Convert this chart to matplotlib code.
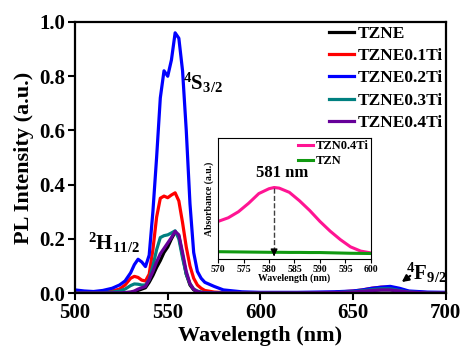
import matplotlib
matplotlib.use('Agg')
import matplotlib.pyplot as plt

plt.rcParams['font.family'] = 'Liberation Serif'
plt.rcParams['font.weight'] = 'bold'
plt.rcParams['mathtext.fontset'] = 'custom'
plt.rcParams['mathtext.rm'] = 'Liberation Serif:bold'
plt.rcParams['mathtext.it'] = 'Liberation Serif:bold'
plt.rcParams['mathtext.bf'] = 'Liberation Serif:bold'

# PL emission spectra
wl = [500, 505, 510, 515, 520, 524, 527, 530, 532, 534, 536, 538, 540, 542, 544,
      546, 548, 550, 552, 554, 556, 558, 560, 562, 564, 566, 568, 570, 575, 580,
      590, 600, 620, 640, 650, 655, 660, 665, 670, 675, 680, 690, 700]

tzne = [0.001, 0.001, 0.001, 0.001, 0.001, 0.001, 0.002, 0.003, 0.005, 0.010, 0.015,
        0.020, 0.040, 0.065, 0.095, 0.120, 0.150, 0.170, 0.200, 0.225, 0.210, 0.140,
        0.070, 0.030, 0.012, 0.005, 0.002, 0.001, 0.001, 0.001, 0.001, 0.001, 0.001,
        0.002, 0.004, 0.007, 0.010, 0.012, 0.012, 0.008, 0.004, 0.001, 0.001]
tzne01 = [0.003, 0.002, 0.002, 0.004, 0.008, 0.015, 0.030, 0.055, 0.062, 0.058, 0.048,
          0.045, 0.070, 0.160, 0.280, 0.350, 0.358, 0.352, 0.362, 0.370, 0.340, 0.260,
          0.170, 0.100, 0.055, 0.030, 0.018, 0.010, 0.004, 0.002, 0.001, 0.001, 0.001,
          0.003, 0.008, 0.012, 0.018, 0.022, 0.022, 0.015, 0.006, 0.002, 0.001]
tzne02 = [0.012, 0.008, 0.006, 0.010, 0.018, 0.030, 0.045, 0.075, 0.105, 0.125, 0.115,
          0.098, 0.140, 0.300, 0.500, 0.720, 0.820, 0.800, 0.860, 0.960, 0.940, 0.820,
          0.600, 0.330, 0.150, 0.080, 0.055, 0.040, 0.025, 0.012, 0.005, 0.003, 0.003,
          0.005, 0.008, 0.012, 0.018, 0.022, 0.025, 0.018, 0.008, 0.004, 0.003]
tzne03 = [0.002, 0.002, 0.002, 0.002, 0.004, 0.008, 0.015, 0.028, 0.034, 0.033, 0.030,
          0.030, 0.050, 0.100, 0.160, 0.205, 0.212, 0.215, 0.222, 0.230, 0.200, 0.130,
          0.070, 0.035, 0.015, 0.008, 0.004, 0.002, 0.001, 0.001, 0.001, 0.001, 0.001,
          0.002, 0.005, 0.009, 0.013, 0.016, 0.016, 0.010, 0.004, 0.001, 0.001]
tzne04 = [0.001, 0.001, 0.001, 0.001, 0.001, 0.001, 0.002, 0.004, 0.008, 0.015, 0.020,
          0.025, 0.050, 0.080, 0.115, 0.145, 0.165, 0.185, 0.205, 0.228, 0.215, 0.150,
          0.080, 0.035, 0.014, 0.006, 0.003, 0.001, 0.001, 0.001, 0.001, 0.001, 0.001,
          0.002, 0.004, 0.007, 0.010, 0.012, 0.012, 0.008, 0.004, 0.001, 0.001]

# absorbance (inset)
wl_abs = [570, 572, 574, 576, 578, 580, 581, 582, 584, 586, 588, 590, 592, 594, 596, 598, 600]
abs_ti = [0.31, 0.34, 0.39, 0.46, 0.54, 0.58, 0.59, 0.585, 0.55, 0.48, 0.40, 0.31, 0.23,
          0.16, 0.10, 0.065, 0.05]
abs_tzn = [0.060, 0.059, 0.058, 0.057, 0.056, 0.055, 0.055, 0.055, 0.054, 0.054, 0.053,
           0.053, 0.051, 0.049, 0.047, 0.046, 0.045]

fig = plt.figure(figsize=(4.63, 3.49), dpi=100)
ax = fig.add_axes([0.162, 0.160, 0.801, 0.777])

lw = 2.3
ax.plot(wl, tzne, c='black', lw=lw, label='TZNE')
ax.plot(wl, tzne01, c='#ff0000', lw=lw, label='TZNE0.1Ti')
ax.plot(wl, tzne02, c='#0000ff', lw=lw, label='TZNE0.2Ti')
ax.plot(wl, tzne03, c='#008080', lw=lw, label='TZNE0.3Ti')
ax.plot(wl, tzne04, c='#660099', lw=lw, label='TZNE0.4Ti')

ax.set_xlim(500, 700)
ax.set_ylim(0, 1.0)
ax.set_xticks([500, 550, 600, 650, 700])
ax.set_yticks([0.0, 0.2, 0.4, 0.6, 0.8, 1.0])
ax.set_xlabel('Wavelength (nm)', size=16, fontweight='bold', labelpad=2)
ax.set_ylabel('PL Intensity (a.u.)', size=16, fontweight='bold', labelpad=4)
ax.tick_params(axis='both', which='major', labelsize=15, width=1.5, length=5, pad=2)
for s in ax.spines.values():
    s.set_linewidth(1.6)

ax.legend(loc='upper right', frameon=False, fontsize=12.5, handlelength=1.4,
          handletextpad=0.2, labelspacing=0.36, borderaxespad=0.0, borderpad=0.2)

ax.text(558, 0.75, r'$^{4}$S$_{3/2}$', fontsize=15, ha='left', va='baseline')
ax.text(507, 0.159, r'$^{2}$H$_{11/2}$', fontsize=15, ha='left', va='baseline')
ax.text(678.5, 0.05, r'$^{4}$F$_{9/2}$', fontsize=15, ha='left', va='baseline')
ax.annotate('', xy=(675, 0.035), xytext=(682, 0.07),
            arrowprops=dict(arrowstyle='-|>', color='black', lw=1.5))

# inset
ax_in = fig.add_axes([0.471, 0.258, 0.330, 0.347])
ax_in.plot(wl_abs, abs_ti, c='#ff1493', lw=2.2, label='TZN0.4Ti')
ax_in.plot(wl_abs, abs_tzn, c='#119911', lw=2.2, label='TZN')
ax_in.set_xlim(570, 600)
ax_in.set_ylim(0, 1.0)
ax_in.set_xticks([570, 575, 580, 585, 590, 595, 600])
ax_in.set_yticks([])
ax_in.tick_params(axis='x', labelsize=7, length=3, pad=1)
ax_in.set_xlabel('Wavelength (nm)', size=7, fontweight='bold', labelpad=0)
ax_in.set_ylabel('Absorbance (a.u.)', size=7, fontweight='bold', labelpad=3)
for s in ax_in.spines.values():
    s.set_linewidth(0.8)
ax_in.plot([581, 581], [0.59, 0.04], '--', c='0.25', lw=1)
ax_in.annotate('', xy=(581, 0.0), xytext=(581, 0.06),
               arrowprops=dict(arrowstyle='-|>', color='black', lw=1))
ax_in.text(582.5, 0.64, '581 nm', fontsize=12, ha='center', va='bottom')
ax_in.legend(loc='upper right', frameon=False, fontsize=9, handlelength=1.2,
             handletextpad=0.2, labelspacing=0.25, borderaxespad=0.0, borderpad=0.2)

fig.savefig('out.png', dpi=100)
